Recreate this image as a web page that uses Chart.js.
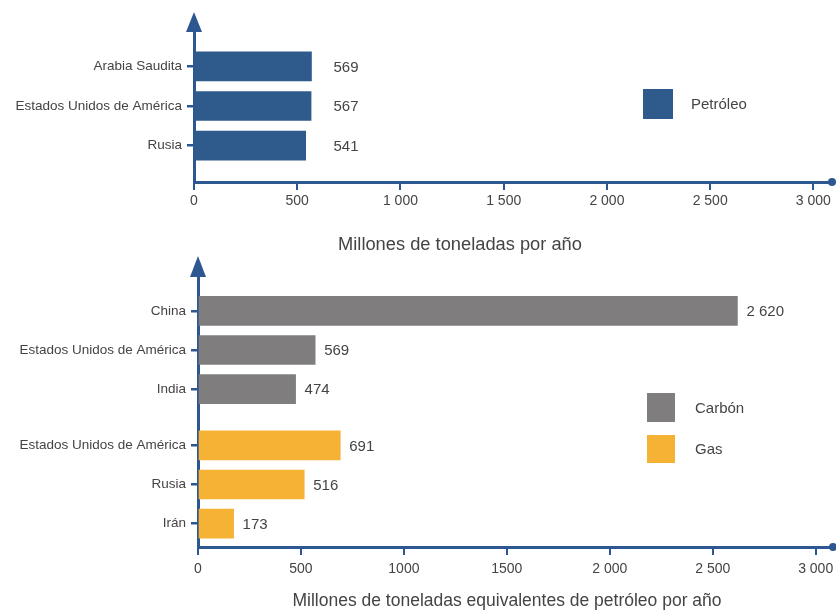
<!DOCTYPE html>
<html>
<head>
<meta charset="utf-8">
<script src="https://cdn.jsdelivr.net/npm/chart.js@4.4.0/dist/chart.umd.min.js"></script>
<style>
    body { margin: 0; background: #fff; }
    #wrap { position: relative; width: 836px; height: 610px; }
    .box { position: absolute; left: 0; }
    #box1 { top: 0; }
    #box2 { top: 250px; }
</style>
</head>
<body>
<div id="wrap">
    <div class="box" id="box1"><canvas id="oilChart" width="836" height="260"></canvas></div>
    <div class="box" id="box2"><canvas id="lowerChart" width="836" height="360"></canvas></div>
</div>
<script>
// petróleo
const oilCountries = ["Arabia Saudita", "Estados Unidos de América", "Rusia"];
const oilValues = [569, 567, 541];

// carbón y gas
const coalCountries = ["China", "Estados Unidos de América", "India"];
const coalValues = [2620, 569, 474];
const gasCountries = ["Estados Unidos de América", "Rusia", "Irán"];
const gasValues = [691, 516, 173];

// x axis ticks
const xTickValues = [0, 500, 1000, 1500, 2000, 2500, 3000];
const oilTickLabels = ["0", "500", "1 000", "1 500", "2 000", "2 500", "3 000"];
const lowerTickLabels = ["0", "500", "1000", "1500", "2 000", "2 500", "3 000"];

const oilTitle = "Millones de toneladas por año";
const lowerTitle = "Millones de toneladas equivalentes de petróleo por año";

const AXIS = "#2c5791";
const OIL = "#2e5b8c";
const COAL = "#7f7d7e";
const GAS = "#f6b234";
const TEXT = "#444";
const FONT = "'Liberation Sans', Arial, sans-serif";
const GROUP_GAP = 0.44; // extra space between carbón and gas rows

Chart.defaults.font.family = FONT;
Chart.defaults.color = TEXT;

function fmt(v) {
    return String(v).replace(/\B(?=(\d{3})+(?!\d))/g, " ");
}

// arrow, end dot, value labels, legend and axis title
const extras = {
    id: "extras",
    afterDraw(chart, args, opts) {
        const ctx = chart.ctx;
        const area = chart.chartArea;
        ctx.save();
        ctx.fillStyle = AXIS;
        ctx.beginPath();
        ctx.moveTo(area.left - 8, area.top + 2);
        ctx.lineTo(area.left + 8, area.top + 2);
        ctx.lineTo(area.left, area.top - opts.arrow);
        ctx.closePath();
        ctx.fill();
        ctx.beginPath();
        ctx.arc(area.right - 1, area.bottom, 4, 0, Math.PI * 2);
        ctx.fill();

        // value labels
        ctx.font = "15px " + FONT;
        ctx.fillStyle = TEXT;
        ctx.textBaseline = "middle";
        ctx.textAlign = "left";
        let column = 0;
        chart.data.datasets.forEach((ds, d) => {
            chart.getDatasetMeta(d).data.forEach(bar => { column = Math.max(column, bar.x); });
        });
        chart.data.datasets.forEach((ds, d) => {
            chart.getDatasetMeta(d).data.forEach((bar, i) => {
                const x = opts.alignLabels ? column + 22 : bar.x + 9;
                ctx.fillText(fmt(ds.data[i].x), x, bar.y + 1);
            });
        });

        // legend
        opts.legend.forEach(item => {
            ctx.fillStyle = item.color;
            ctx.fillRect(item.x, item.y, item.w, item.h);
            ctx.fillStyle = TEXT;
            ctx.fillText(item.label, item.x + 48, item.y + item.h / 2 + 1);
        });

        // axis title
        ctx.font = opts.titleSize + "px " + FONT;
        ctx.textAlign = "center";
        ctx.fillText(opts.title, opts.titleX, opts.titleY);
        ctx.restore();
    }
};

function xScale(tickLabels, max, height, pad) {
    return {
        type: "linear",
        bounds: "data",
        min: 0,
        max: max,
        afterFit(scale) {
            scale.height = height;
            scale.paddingLeft = 0;
            scale.paddingRight = 0;
        },
        afterBuildTicks(scale) { scale.ticks = xTickValues.map(v => ({ value: v })); },
        ticks: {
            autoSkip: false,
            maxRotation: 0,
            padding: pad,
            color: TEXT,
            font: { size: 14 },
            callback: (value, index) => tickLabels[index]
        },
        grid: { drawOnChartArea: false, tickLength: 8, color: AXIS, lineWidth: 2 },
        border: { color: AXIS, width: 3 }
    };
}

function yScale(labels, positions, min, max, width) {
    return {
        type: "linear",
        reverse: true,
        offset: false,
        min: min,
        max: max,
        afterFit(scale) {
            scale.width = width;
            scale.paddingTop = 0;
            scale.paddingBottom = 0;
        },
        afterBuildTicks(scale) { scale.ticks = positions.map(p => ({ value: p })); },
        ticks: {
            autoSkip: false,
            padding: 5,
            color: TEXT,
            font: { size: 13.5 },
            callback: (value, index) => labels[index]
        },
        grid: { offset: false, drawOnChartArea: false, tickLength: 7, color: AXIS, lineWidth: 2.5 },
        border: { color: AXIS, width: 3 }
    };
}

// top chart: petróleo
const oilPositions = oilCountries.map((c, i) => i);
new Chart(document.getElementById("oilChart"), {
    type: "bar",
    data: {
        datasets: [{
            label: "Petróleo",
            data: oilValues.map((v, i) => ({ x: v, y: oilPositions[i] })),
            backgroundColor: OIL,
            barThickness: 29,
            grouped: false
        }]
    },
    options: {
        indexAxis: "y",
        responsive: false,
        animation: false,
        layout: { padding: { top: 30, right: 3, left: 0, bottom: 0 } },
        scales: {
            x: xScale(oilTickLabels, 3095, 78, 3),
            y: yScale(oilCountries, oilPositions, -0.92, 2.92, 194)
        },
        plugins: {
            legend: { display: false },
            tooltip: { enabled: false },
            extras: {
                arrow: 18,
                alignLabels: true,
                title: oilTitle,
                titleSize: 18.3,
                titleX: 460,
                titleY: 245,
                legend: [{ label: "Petróleo", color: OIL, x: 643, y: 89, w: 30, h: 30 }]
            }
        }
    },
    plugins: [extras]
});

// bottom chart: carbón y gas
const coalPositions = coalCountries.map((c, i) => i);
const gasPositions = gasCountries.map((c, i) => coalCountries.length + GROUP_GAP + i);
new Chart(document.getElementById("lowerChart"), {
    type: "bar",
    data: {
        datasets: [{
            label: "Carbón",
            data: coalValues.map((v, i) => ({ x: v, y: coalPositions[i] })),
            backgroundColor: COAL,
            barThickness: 29,
            grouped: false
        }, {
            label: "Gas",
            data: gasValues.map((v, i) => ({ x: v, y: gasPositions[i] })),
            backgroundColor: GAS,
            barThickness: 29,
            grouped: false
        }]
    },
    options: {
        indexAxis: "y",
        responsive: false,
        animation: false,
        layout: { padding: { top: 25, right: 2, left: 0, bottom: 0 } },
        scales: {
            x: xScale(lowerTickLabels, 3089, 63, 6),
            y: yScale(coalCountries.concat(gasCountries), coalPositions.concat(gasPositions), -0.92, 6.04, 198)
        },
        plugins: {
            legend: { display: false },
            tooltip: { enabled: false },
            extras: {
                arrow: 19,
                alignLabels: false,
                title: lowerTitle,
                titleSize: 17.5,
                titleX: 507,
                titleY: 351,
                legend: [
                    { label: "Carbón", color: COAL, x: 647, y: 143, w: 28, h: 29 },
                    { label: "Gas", color: GAS, x: 647, y: 185, w: 28, h: 28 }
                ]
            }
        }
    },
    plugins: [extras]
});
</script>
</body>
</html>
